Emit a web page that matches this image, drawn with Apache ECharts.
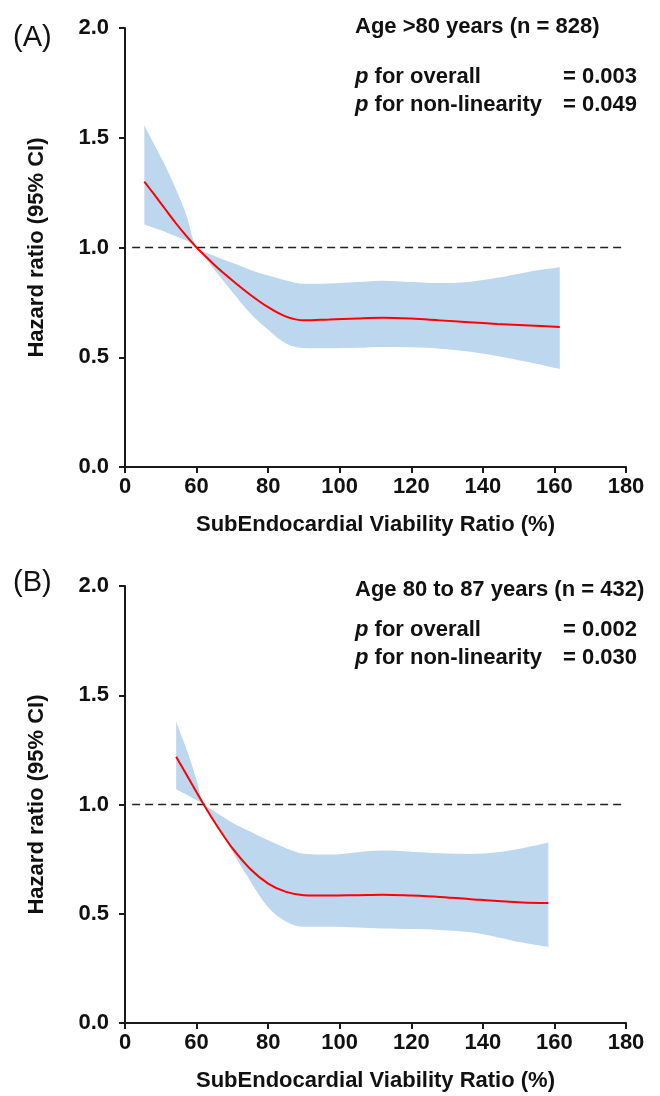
<!DOCTYPE html>
<html>
<head>
<meta charset="utf-8">
<script src="https://cdn.jsdelivr.net/npm/echarts@6/dist/echarts.min.js"></script>
<style>
html,body{margin:0;padding:0;background:#fff;}
#chart{width:660px;height:1096px;}
</style>
</head>
<body>
<div id="chart"></div>
<script>
// X axis ticks (broken axis: first tick shown as "0")
const xTicks = [40, 60, 80, 100, 120, 140, 160, 180];
const xTickLabels = ['0', '60', '80', '100', '120', '140', '160', '180'];
const yTicks = [0, 0.5, 1.0, 1.5, 2.0];
const refHR = 1.0;
const refX = [42, 179];

// Panel A: Age >80 years
const xA   = [45.4, 48, 51, 54, 57, 60, 63, 66, 70, 75, 80, 85, 90, 97, 105, 112, 120, 128, 136, 144, 153, 161.5];
const estA = [1.30, 1.245, 1.18, 1.115, 1.055, 1.0, 0.952, 0.905, 0.85, 0.785, 0.728, 0.685, 0.668, 0.672, 0.677, 0.68, 0.676, 0.668, 0.66, 0.652, 0.645, 0.638];
const upA  = [1.557, 1.475, 1.38, 1.275, 1.155, 1.0, 0.975, 0.955, 0.93, 0.898, 0.872, 0.85, 0.835, 0.836, 0.843, 0.849, 0.843, 0.838, 0.843, 0.862, 0.89, 0.91];
const loA  = [1.105, 1.09, 1.073, 1.052, 1.033, 1.0, 0.94, 0.878, 0.797, 0.70, 0.625, 0.563, 0.542, 0.541, 0.543, 0.547, 0.545, 0.539, 0.526, 0.506, 0.477, 0.446];

// Panel B: Age 80 to 87 years
const xB   = [54.3, 56, 58, 60, 62, 64, 66, 70, 75, 80, 85, 90, 97, 105, 112, 120, 128, 136, 144, 151, 158.3];
const estB = [1.219, 1.17, 1.113, 1.056, 1.0, 0.946, 0.895, 0.80, 0.705, 0.638, 0.60, 0.585, 0.583, 0.585, 0.587, 0.583, 0.577, 0.568, 0.558, 0.552, 0.549];
const upB  = [1.379, 1.305, 1.215, 1.112, 1.0, 0.979, 0.958, 0.917, 0.876, 0.836, 0.80, 0.775, 0.771, 0.782, 0.789, 0.784, 0.777, 0.774, 0.782, 0.80, 0.826];
const loB  = [1.07, 1.055, 1.038, 1.02, 1.0, 0.952, 0.90, 0.785, 0.65, 0.53, 0.465, 0.44, 0.441, 0.437, 0.433, 0.43, 0.426, 0.416, 0.393, 0.368, 0.348];

const titles = ['Age >80 years (n = 828)', 'Age 80 to 87 years (n = 432)'];
const pOverall = ['= 0.003', '= 0.002'];
const pNonlin = ['= 0.049', '= 0.030'];
const panelTags = ['(A)', '(B)'];

const FONT = '"Liberation Sans", Arial, sans-serif';
const AXC = '#1a1a1a';
const BAND = '#bdd7ee';

const grids = [
  {left: 125, right: 34, top: 28, height: 439},
  {left: 125, right: 34, top: 586, height: 437}
];

function xAxisOpt(i) {
  return {
    type: 'value', gridIndex: i, min: xTicks[0], max: xTicks[xTicks.length - 1], interval: 20, z: 10,
    name: 'SubEndocardial Viability Ratio (%)', nameLocation: 'middle', nameGap: 47,
    nameTextStyle: {fontFamily: FONT, fontWeight: 'bold', fontSize: 22, color: '#111'},
    axisLine: {show: true, onZero: false, lineStyle: {color: AXC, width: 2}},
    axisTick: {show: true, length: 6, lineStyle: {color: AXC, width: 2}},
    axisLabel: {margin: 9, fontFamily: FONT, fontWeight: 'bold', fontSize: 22, color: '#111',
      formatter: v => xTickLabels[xTicks.indexOf(v)]},
    splitLine: {show: false}
  };
}
function yAxisOpt(i) {
  return {
    type: 'value', gridIndex: i, min: yTicks[0], max: yTicks[yTicks.length - 1], interval: 0.5, z: 10,
    name: 'Hazard ratio (95% CI)', nameLocation: 'middle', nameGap: 77,
    nameTextStyle: {fontFamily: FONT, fontWeight: 'bold', fontSize: 22, color: '#111'},
    axisLine: {show: true, lineStyle: {color: AXC, width: 2}},
    axisTick: {show: true, length: 6, lineStyle: {color: AXC, width: 2}},
    axisLabel: {margin: 16, fontFamily: FONT, fontWeight: 'bold', fontSize: 22, color: '#111',
      formatter: v => v.toFixed(1)},
    splitLine: {show: false}
  };
}

const SM = 0.35;
function panelSeries(i, xs, est, up, lo) {
  const st = 'ci' + i;
  return [
    // lower CI (invisible base of the band); y value first so stacking is on y
    {type: 'line', xAxisIndex: i, yAxisIndex: i, stack: st, smooth: SM, symbol: 'none', silent: true, z: 1,
      encode: {x: 1, y: 0},
      data: xs.map((x, k) => [lo[k], x]), lineStyle: {width: 0, opacity: 0}},
    // band width stacked on lower CI
    {type: 'line', xAxisIndex: i, yAxisIndex: i, stack: st, smooth: SM, symbol: 'none', silent: true, z: 1,
      encode: {x: 1, y: 0},
      data: xs.map((x, k) => [up[k] - lo[k], x]), lineStyle: {width: 0, opacity: 0},
      areaStyle: {color: BAND, opacity: 1}},
    // reference line HR = 1
    {type: 'line', xAxisIndex: i, yAxisIndex: i, symbol: 'none', silent: true, z: 3,
      data: refX.map(x => [x, refHR]), lineStyle: {color: '#222', width: 1.6, type: [8, 5]}},
    // estimate
    {type: 'line', xAxisIndex: i, yAxisIndex: i, smooth: SM, symbol: 'none', z: 4,
      data: xs.map((x, k) => [x, est[k]]), lineStyle: {color: '#ff0000', width: 2}}
  ];
}

const textY = [[27, 77, 105], [590, 630, 658]];
const graphics = [];
[0, 1].forEach(i => {
  const rich = {i: {fontStyle: 'italic', fontWeight: 'bold', fontSize: 22, fontFamily: FONT, fill: '#111'}};
  graphics.push({type: 'text', left: 13, top: i === 0 ? 23 : 568, z: 20,
    style: {text: panelTags[i], font: '29px ' + FONT, fill: '#111'}});
  graphics.push({type: 'text', x: 355, y: textY[i][0], z: 20,
    style: {text: titles[i], font: 'bold 22px ' + FONT, fill: '#111', verticalAlign: 'middle'}});
  graphics.push({type: 'text', x: 355, y: textY[i][1], z: 20,
    style: {text: '{i|p} for overall', font: 'bold 22px ' + FONT, fill: '#111', verticalAlign: 'middle', rich: rich}});
  graphics.push({type: 'text', x: 355, y: textY[i][2], z: 20,
    style: {text: '{i|p} for non-linearity', font: 'bold 22px ' + FONT, fill: '#111', verticalAlign: 'middle', rich: rich}});
  graphics.push({type: 'text', x: 563, y: textY[i][1], z: 20,
    style: {text: pOverall[i], font: 'bold 22px ' + FONT, fill: '#111', verticalAlign: 'middle'}});
  graphics.push({type: 'text', x: 563, y: textY[i][2], z: 20,
    style: {text: pNonlin[i], font: 'bold 22px ' + FONT, fill: '#111', verticalAlign: 'middle'}});
});

const chart = echarts.init(document.getElementById('chart'), null, {renderer: 'canvas'});
chart.setOption({
  animation: false,
  backgroundColor: '#fff',
  grid: grids,
  xAxis: [xAxisOpt(0), xAxisOpt(1)],
  yAxis: [yAxisOpt(0), yAxisOpt(1)],
  series: [].concat(panelSeries(0, xA, estA, upA, loA), panelSeries(1, xB, estB, upB, loB)),
  graphic: graphics
});
</script>
</body>
</html>
